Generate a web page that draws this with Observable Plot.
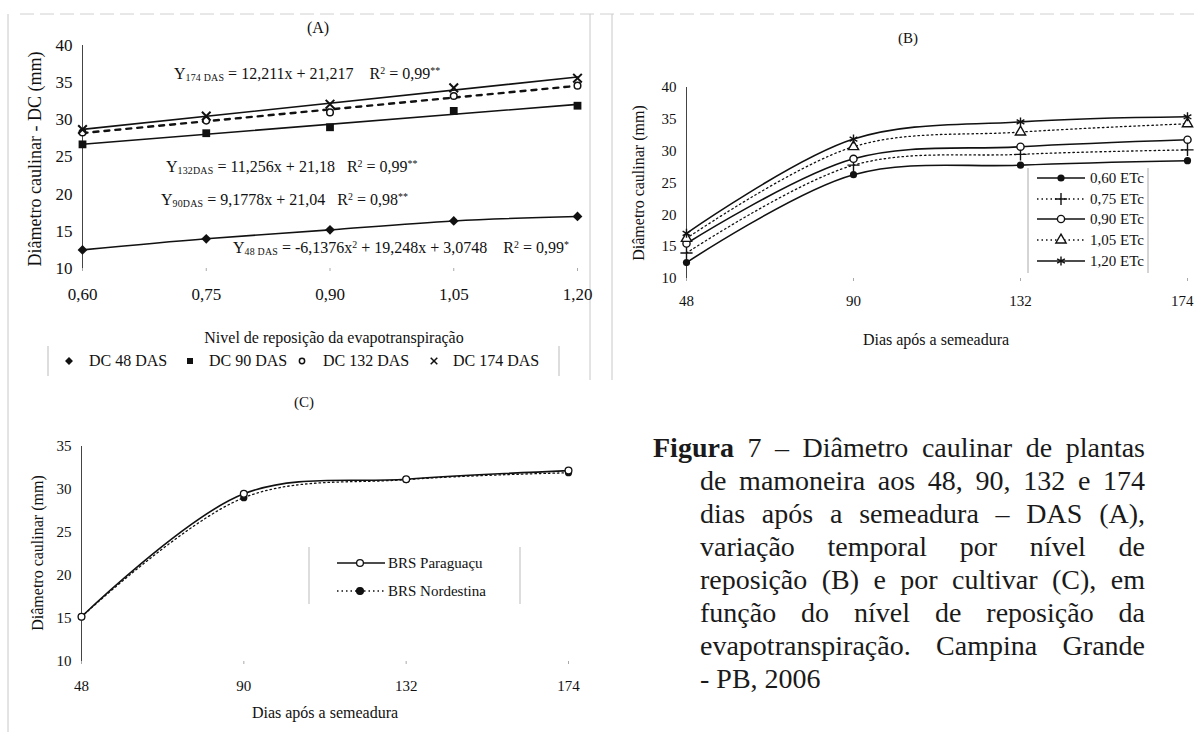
<!DOCTYPE html>
<html><head><meta charset="utf-8">
<script src="https://cdn.jsdelivr.net/npm/d3@7"></script>
<script src="https://cdn.jsdelivr.net/npm/@observablehq/plot@0.6"></script>
<style>
html,body{margin:0;padding:0;background:#fff;}
#root{position:relative;width:1195px;height:732px;overflow:hidden;font-family:"Liberation Serif","Times New Roman",serif;color:#111;background:#fff;}
#root sub{font-size:0.62em;vertical-align:-0.15em;letter-spacing:0.02em;}
#root sup{font-size:0.62em;vertical-align:0.55em;}
.cap{position:absolute;font-family:"Liberation Serif","Times New Roman",serif;font-size:28px;line-height:33px;white-space:nowrap;color:#1a1a1a;}
.just{text-align:justify;text-align-last:justify;white-space:normal;}
</style></head><body><div id="root"></div>
<script>
// ---------- data ----------
// Panel A: stem diameter by evapotranspiration replacement level
const levelValues = [0.60, 0.75, 0.90, 1.05, 1.20];
const levelLabels = ["0,60", "0,75", "0,90", "1,05", "1,20"];
const dc48  = [12.5, 14.0, 15.2, 16.4, 17.0];
const dc90  = [26.7, 28.2, 29.0, 31.2, 31.9];
const dc132 = [28.3, 29.9, 31.0, 33.2, 34.6];
const dc174 = [28.7, 30.5, 32.1, 34.3, 35.6];
const yTicksA = [10, 15, 20, 25, 30, 35, 40];
const seriesA = ["DC 48 DAS", "DC 90 DAS", "DC 132 DAS", "DC 174 DAS"];

// Panel B: temporal variation per replacement level
const days = [48, 90, 132, 174];
const etc060 = [12.5, 26.3, 27.8, 28.5];
const etc075 = [14.0, 27.8, 29.5, 30.2];
const etc090 = [15.5, 28.8, 30.7, 31.8];
const etc105 = [16.3, 30.7, 33.0, 34.3];
const etc120 = [17.1, 31.9, 34.6, 35.4];
const seriesB = ["0,60 ETc", "0,75 ETc", "0,90 ETc", "1,05 ETc", "1,20 ETc"];
const yTicksB = [10, 15, 20, 25, 30, 35, 40];

// Panel C: per cultivar
const paraguacu  = [15.2, 29.5, 31.2, 32.2];
const nordestina = [15.2, 29.05, 31.15, 31.95];
const seriesC = ["BRS Paraguaçu", "BRS Nordestina"];
const yTicksC = [10, 15, 20, 25, 30, 35];

// ---------- helpers ----------
const root = document.getElementById("root");
const FONT = "Liberation Serif, Times New Roman, serif";
function put(node, left, top) {
  const d = document.createElement("div");
  d.style.cssText = `position:absolute;left:${left}px;top:${top}px;`;
  d.appendChild(node);
  root.appendChild(d);
  return d;
}
function textAt(html, x, y, {size = 16, rotate = 0, anchor = "middle"} = {}) {
  const d = document.createElement("div");
  d.innerHTML = html;
  const tx = anchor === "start" ? "0" : "-50%";
  d.style.cssText = `position:absolute;left:${x}px;top:${y}px;white-space:nowrap;font-size:${size}px;line-height:1;color:#111;transform:translate(${tx},-50%) rotate(${rotate}deg);`;
  root.appendChild(d);
  return d;
}
const toRows = (xs, ys) => xs.map((x, i) => ({x, y: ys[i]}));
const baseStyle = (fs) => ({fontFamily: FONT, fontSize: fs + "px", background: "transparent", overflow: "visible", color: "#111"});

// ---------- decorative frame lines ----------
const deco = d3.create("svg").attr("width", 1195).attr("height", 732)
  .style("position", "absolute").style("left", "0px").style("top", "0px");
deco.append("line").attr("x1", 20).attr("x2", 1195).attr("y1", 14).attr("y2", 14)
  .attr("stroke", "#d0d0d0").attr("stroke-dasharray", "14,6");
deco.append("line").attr("x1", 8).attr("x2", 8).attr("y1", 14).attr("y2", 732).attr("stroke", "#c8c8c8");
deco.append("line").attr("x1", 590).attr("x2", 590).attr("y1", 14).attr("y2", 380).attr("stroke", "#c8c8c8");
deco.append("line").attr("x1", 612).attr("x2", 612).attr("y1", 14).attr("y2", 380).attr("stroke", "#c8c8c8");
root.appendChild(deco.node());

// ---------- Panel A ----------
const plotA = Plot.plot({
  width: 590, height: 380,
  marginLeft: 82, marginRight: 13, marginTop: 45, marginBottom: 112,
  style: baseStyle(17),
  x: {domain: [levelValues[0], levelValues[levelValues.length - 1]]},
  y: {domain: [yTicksA[0], yTicksA[yTicksA.length - 1]]},
  marks: [
    Plot.ruleX([levelValues[0]], {stroke: "#444"}),
    Plot.axisY({ticks: yTicksA, tickSize: 0, tickPadding: 10, label: null}),
    Plot.axisX({ticks: levelValues, tickFormat: d => levelLabels[levelValues.indexOf(d)], tickSize: 3, tickPadding: 16, stroke: "#aaa", fill: "#111", label: null}),
    Plot.linearRegressionY(toRows(levelValues, dc174), {x: "x", y: "y", ci: 0, stroke: "#111", strokeWidth: 1.6}),
    Plot.linearRegressionY(toRows(levelValues, dc132), {x: "x", y: "y", ci: 0, stroke: "#111", strokeWidth: 2.4, strokeDasharray: "5,6"}),
    Plot.linearRegressionY(toRows(levelValues, dc90), {x: "x", y: "y", ci: 0, stroke: "#111", strokeWidth: 1.6}),
    Plot.line(toRows(levelValues, dc48), {x: "x", y: "y", curve: "natural", stroke: "#111", strokeWidth: 1.6}),
    Plot.dot(toRows(levelValues, dc48), {x: "x", y: "y", symbol: "diamond2", r: 4.4, fill: "#111"}),
    Plot.dot(toRows(levelValues, dc90), {x: "x", y: "y", symbol: "square", r: 4.4, fill: "#111"}),
    Plot.dot(toRows(levelValues, dc132), {x: "x", y: "y", symbol: "circle", r: 3.3, fill: "white", stroke: "#111", strokeWidth: 1.5}),
    Plot.dot(toRows(levelValues, dc174), {x: "x", y: "y", symbol: "times", r: 4, stroke: "#111", strokeWidth: 2})
  ]
});
put(plotA, 0, 0);

textAt("(A)", 318, 28, {size: 16});
textAt("Diâmetro caulinar - DC (mm)", 35, 159, {size: 18, rotate: -90});
textAt("Nivel de reposição da evapotranspiração", 334, 338, {size: 16});
textAt("Y<sub>174 DAS</sub> = 12,211x + 21,217&nbsp;&nbsp;&nbsp; R<sup>2</sup> = 0,99<sup>**</sup>", 174, 74, {size: 16, anchor: "start"});
textAt("Y<sub>132DAS</sub> = 11,256x + 21,18&nbsp;&nbsp; R<sup>2</sup> = 0,99<sup>**</sup>", 166, 167, {size: 16, anchor: "start"});
textAt("Y<sub>90DAS</sub> = 9,1778x + 21,04&nbsp;&nbsp; R<sup>2</sup> = 0,98<sup>**</sup>", 161, 200, {size: 16, anchor: "start"});
textAt("Y<sub>48 DAS</sub> = -6,1376x<sup>2</sup> + 19,248x + 3,0748&nbsp;&nbsp;&nbsp; R<sup>2</sup> = 0,99<sup>*</sup>", 233, 248, {size: 16, anchor: "start"});

// Legend A
{
  const lg = d3.create("svg").attr("width", 1195).attr("height", 732)
    .style("position", "absolute").style("left", "0px").style("top", "0px").style("pointer-events", "none");
  lg.append("line").attr("x1", 48).attr("x2", 48).attr("y1", 346).attr("y2", 376).attr("stroke", "#bbb");
  lg.append("line").attr("x1", 559).attr("x2", 559).attr("y1", 346).attr("y2", 376).attr("stroke", "#bbb");
  const symX = [69, 190, 302, 434];
  const txtX = [89, 209, 323, 453];
  const yL = 361;
  const sym = [
    {t: d3.symbolDiamond2, s: 40, fill: "#111", stroke: "none"},
    {t: d3.symbolSquare, s: 36, fill: "#111", stroke: "none"},
    {t: d3.symbolCircle, s: 22, fill: "white", stroke: "#111"},
    {t: d3.symbolTimes, s: 30, fill: "none", stroke: "#111"}
  ];
  seriesA.forEach((name, i) => {
    lg.append("path").attr("d", d3.symbol().type(sym[i].t).size(sym[i].s)())
      .attr("transform", `translate(${symX[i]},${yL})`)
      .attr("fill", sym[i].fill).attr("stroke", sym[i].stroke).attr("stroke-width", 1.5);
    lg.append("text").attr("x", txtX[i]).attr("y", yL).attr("dy", "0.33em")
      .attr("font-family", FONT).attr("font-size", 16).attr("fill", "#111").text(name);
  });
  root.appendChild(lg.node());
}

// ---------- Panel B ----------
const seriesBData = [etc060, etc075, etc090, etc105, etc120];
const dashB = [null, "1.5,3", null, "1.5,3", null];
const symB = [
  {symbol: "circle", r: 3.6, fill: "#111", stroke: "none"},
  {symbol: "plus", r: 4, fill: "none", stroke: "#111"},
  {symbol: "circle", r: 3.6, fill: "white", stroke: "#111"},
  {symbol: "triangle", r: 3.8, fill: "white", stroke: "#111"},
  {symbol: "asterisk", r: 4.2, fill: "none", stroke: "#111"}
];
const plotB = Plot.plot({
  width: 595, height: 380,
  marginLeft: 86, marginRight: 8, marginTop: 87, marginBottom: 102,
  style: baseStyle(15),
  x: {domain: [days[0], days[days.length - 1]]},
  y: {domain: [yTicksB[0], yTicksB[yTicksB.length - 1]]},
  marks: [
    Plot.ruleX([days[0]], {stroke: "#444"}),
    Plot.axisY({ticks: yTicksB, tickSize: 0, tickPadding: 10, label: null}),
    Plot.axisX({ticks: days, tickSize: 3, tickPadding: 14, stroke: "#aaa", fill: "none", label: null}),
    Plot.axisX({ticks: days.slice(0, -1), tickSize: 0, tickPadding: 17, fill: "#111", label: null}),
    Plot.axisX({ticks: days.slice(-1), tickSize: 0, tickPadding: 17, fill: "#111", textAnchor: "end", dx: 6, label: null}),
    ...seriesBData.map((vals, i) => Plot.line(toRows(days, vals), {x: "x", y: "y", curve: "catmull-rom", stroke: "#111", strokeWidth: dashB[i] ? 1.3 : 1.6, strokeDasharray: dashB[i] ?? undefined})),
    ...seriesBData.map((vals, i) => Plot.dot(toRows(days, vals), {x: "x", y: "y", symbol: symB[i].symbol, r: symB[i].r, fill: symB[i].fill, stroke: symB[i].stroke, strokeWidth: 1.4}))
  ]
});
put(plotB, 600, 0);
textAt("(B)", 908, 38, {size: 15});
textAt("Diâmetro caulinar (mm)", 639, 183, {size: 16, rotate: -90});
textAt("Dias após a semeadura", 936, 340, {size: 16});

// Legend B
{
  const lg = d3.create("svg").attr("width", 1195).attr("height", 732)
    .style("position", "absolute").style("left", "0px").style("top", "0px").style("pointer-events", "none");
  lg.append("rect").attr("x", 1028).attr("y", 168).attr("width", 120).attr("height", 105).attr("fill", "white");
  lg.append("line").attr("x1", 1028).attr("x2", 1028).attr("y1", 168).attr("y2", 273).attr("stroke", "#aaa");
  lg.append("line").attr("x1", 1148).attr("x2", 1148).attr("y1", 168).attr("y2", 273).attr("stroke", "#aaa");
  const rowsY = [178, 199, 219, 240, 261];
  const d3sym = {circle: d3.symbolCircle, plus: d3.symbolPlus, triangle: d3.symbolTriangle, asterisk: d3.symbolAsterisk};
  seriesB.forEach((name, i) => {
    const y = rowsY[i];
    lg.append("line").attr("x1", 1037).attr("x2", 1085).attr("y1", y).attr("y2", y)
      .attr("stroke", "#111").attr("stroke-width", dashB[i] ? 1.3 : 1.6)
      .attr("stroke-dasharray", dashB[i]);
    const s = symB[i];
    lg.append("path").attr("d", d3.symbol().type(d3sym[s.symbol]).size(Math.PI * s.r * s.r)())
      .attr("transform", `translate(1061,${y})`)
      .attr("fill", s.fill).attr("stroke", s.stroke).attr("stroke-width", 1.4);
    lg.append("text").attr("x", 1090).attr("y", y).attr("dy", "0.33em")
      .attr("font-family", FONT).attr("font-size", 15).attr("fill", "#111").text(name);
  });
  root.appendChild(lg.node());
}

// ---------- Panel C ----------
const plotC = Plot.plot({
  width: 590, height: 352,
  marginLeft: 81, marginRight: 22, marginTop: 66, marginBottom: 71,
  style: baseStyle(15),
  x: {domain: [days[0], days[days.length - 1]]},
  y: {domain: [yTicksC[0], yTicksC[yTicksC.length - 1]]},
  marks: [
    Plot.ruleX([days[0]], {stroke: "#444"}),
    Plot.axisY({ticks: yTicksC, tickSize: 0, tickPadding: 10, label: null}),
    Plot.axisX({ticks: days, tickSize: 3, tickPadding: 16, stroke: "#aaa", fill: "#111", label: null}),
    Plot.line(toRows(days, nordestina), {x: "x", y: "y", curve: "catmull-rom", stroke: "#111", strokeWidth: 1.3, strokeDasharray: "1.5,3"}),
    Plot.line(toRows(days, paraguacu), {x: "x", y: "y", curve: "catmull-rom", stroke: "#111", strokeWidth: 1.6}),
    Plot.dot(toRows(days, nordestina), {x: "x", y: "y", symbol: "circle", r: 3.6, fill: "#111"}),
    Plot.dot(toRows(days, paraguacu), {x: "x", y: "y", symbol: "circle", r: 3.4, fill: "white", stroke: "#111", strokeWidth: 1.3})
  ]
});
put(plotC, 0, 380);
textAt("(C)", 304, 402, {size: 15});
textAt("Diâmetro caulinar (mm)", 38, 553, {size: 16, rotate: -90});
textAt("Dias após a semeadura", 325, 713, {size: 16});

// Legend C
{
  const lg = d3.create("svg").attr("width", 1195).attr("height", 732)
    .style("position", "absolute").style("left", "0px").style("top", "0px").style("pointer-events", "none");
  lg.append("line").attr("x1", 309).attr("x2", 309).attr("y1", 547).attr("y2", 604).attr("stroke", "#bbb");
  lg.append("line").attr("x1", 520).attr("x2", 520).attr("y1", 547).attr("y2", 604).attr("stroke", "#bbb");
  const rowsY = [563, 591];
  const fills = ["white", "#111"];
  const dashes = [null, "1.5,3"];
  seriesC.forEach((name, i) => {
    const y = rowsY[i];
    lg.append("line").attr("x1", 337).attr("x2", 385).attr("y1", y).attr("y2", y)
      .attr("stroke", "#111").attr("stroke-width", dashes[i] ? 1.3 : 1.6).attr("stroke-dasharray", dashes[i]);
    lg.append("circle").attr("cx", 360).attr("cy", y).attr("r", 3.4)
      .attr("fill", fills[i]).attr("stroke", "#111").attr("stroke-width", 1.3);
    lg.append("text").attr("x", 388).attr("y", y).attr("dy", "0.33em")
      .attr("font-family", FONT).attr("font-size", 15).attr("fill", "#111").text(name);
  });
  root.appendChild(lg.node());
}

// ---------- Caption ----------
const captionLines = [
  "<b>Figura</b> 7 – Diâmetro caulinar de plantas",
  "de mamoneira aos 48, 90, 132 e 174",
  "dias após a semeadura – DAS (A),",
  "variação temporal por nível de",
  "reposição (B) e por cultivar (C), em",
  "função do nível de reposição da",
  "evapotranspiração. Campina Grande",
  "- PB, 2006"
];
captionLines.forEach((t, i) => {
  const d = document.createElement("div");
  const left = i === 0 ? 653 : 700;
  d.className = "cap" + (i < captionLines.length - 1 ? " just" : "");
  d.style.left = left + "px";
  d.style.top = (431 + i * 33) + "px";
  if (i < captionLines.length - 1) d.style.width = (1145 - left) + "px";
  d.innerHTML = t;
  root.appendChild(d);
});
</script>
</body></html>
